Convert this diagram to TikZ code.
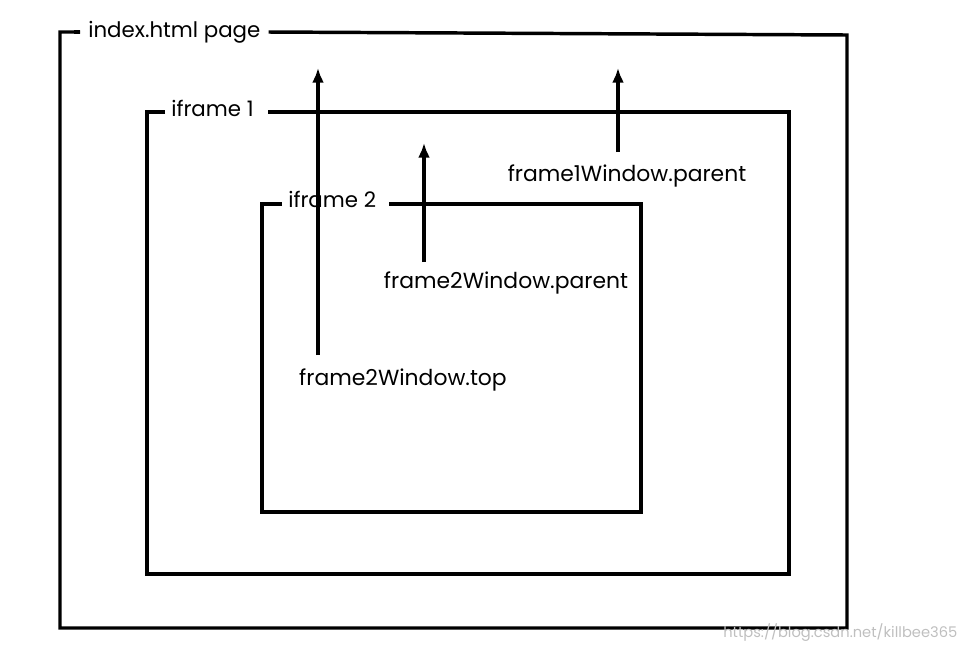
\documentclass[tikz,border=0pt]{standalone}
\usepackage{fontspec}
\setmainfont{Poppins}
\usetikzlibrary{positioning, calc, arrows.meta}
\begin{document}
\begin{tikzpicture}[
    x=0.75pt, y=-0.75pt,
    frame_line/.style={line width=2.6pt, black},
    frame_label/.style={font=\fontsize{16}{19}\selectfont, inner sep=0pt, anchor=west},
    ref_arrow/.style={-{Latex[length=11pt,width=9pt]}, line width=2.6pt, black},
    ref_label/.style={font=\fontsize{16.4}{19}\selectfont, inner sep=0pt}
]
    \useasboundingbox (0,0) rectangle (971,651);
    % index.html page
    \node[frame_label] (pagelbl) at (88,32) {index.html page};
    \draw[frame_line] (pagelbl.west) ++(-6pt,0) coordinate (p0) -| (60,628) -| (847,35) -- ($(pagelbl.east)+(6pt,0)$);
    \draw[frame_line] (p0) -- ++(-6,0);
    % iframe 1
    \node[frame_label] (f1lbl) at (171,108) {iframe 1};
    \draw[frame_line] (165,112) -| (147,574) -| (789,112) -- (268,112);
    % iframe 2
    \node[frame_label] (f2lbl) at (288,199) {iframe 2};
    \draw[frame_line] (282,204) -| (262,512) -| (641,204) -- (389,204);
    % Reference labels
    \node[ref_label] (toplbl) at (403,380) {frame2Window.top};
    \node[ref_label] (par2lbl) at (506,283) {frame2Window.parent};
    \node[ref_label] (par1lbl) at (627,176) {frame1Window.parent};
    \coordinate (toptip) at (318,68);
    \coordinate (par2tip) at (424,143);
    \coordinate (par1tip) at (618,68);
    % Reference arrows
    \draw[ref_arrow] (318,355) -- (toptip);
    \draw[ref_arrow] (424,262) -- (par2tip);
    \draw[ref_arrow] (618,152) -- (par1tip);
    % watermark
    \node[font=\fontsize{11}{13}\selectfont, text=black!25, anchor=east] (mark) at (962,633) {https://blog.csdn.net/killbee365};
\end{tikzpicture}
\end{document}
